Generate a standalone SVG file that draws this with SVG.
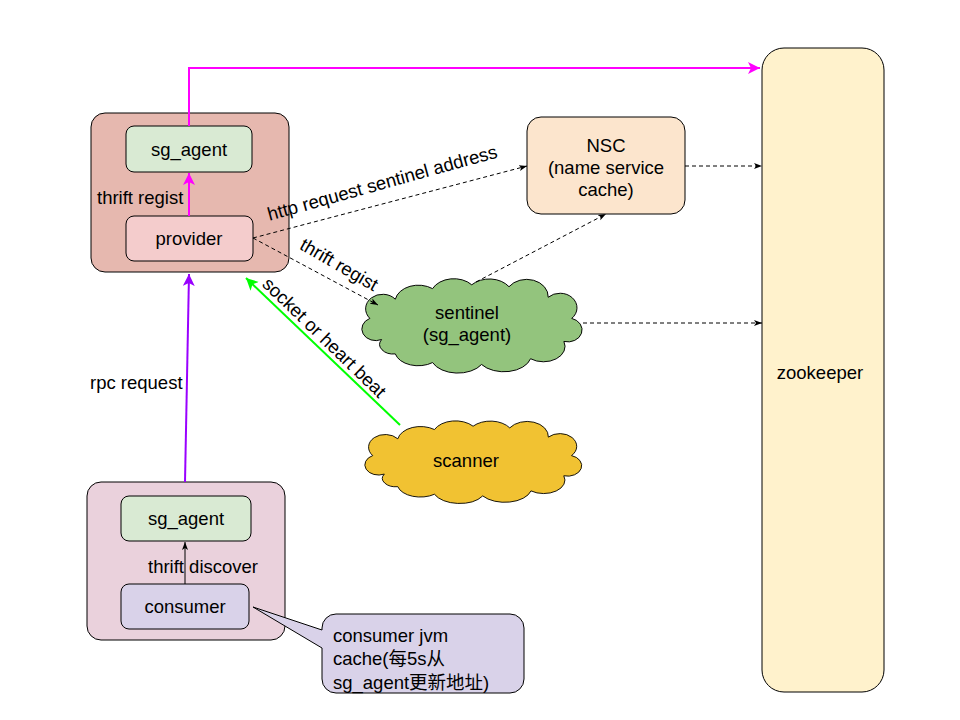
<svg xmlns="http://www.w3.org/2000/svg" width="960" height="720" viewBox="0 0 960 720">
<style>
text{font-family:"Liberation Sans",Arial,sans-serif;font-size:18.5px;fill:#000}
.c{text-anchor:middle}
.box{stroke:#000;stroke-width:1}
.dash{fill:none;stroke:#000;stroke-width:1;stroke-dasharray:4,3}
.cloud{stroke:#000;stroke-width:1;vector-effect:non-scaling-stroke}
</style>
<defs>
<marker id="aBlk" markerUnits="userSpaceOnUse" markerWidth="10" markerHeight="10" refX="8" refY="4" orient="auto"><path d="M0,1 L8,4 L0,7 L2,4 Z" fill="#000"/></marker>
<marker id="aMag" markerUnits="userSpaceOnUse" markerWidth="14" markerHeight="14" refX="12" refY="6" orient="auto"><path d="M0,0 L12,6 L0,12 L3,6 Z" fill="#ff00ff"/></marker>
<marker id="aPur" markerUnits="userSpaceOnUse" markerWidth="14" markerHeight="14" refX="12" refY="6" orient="auto"><path d="M0,0 L12,6 L0,12 L3,6 Z" fill="#9900ff"/></marker>
<marker id="aGrn" markerUnits="userSpaceOnUse" markerWidth="14" markerHeight="14" refX="12" refY="6" orient="auto"><path d="M0,0 L12,6 L0,12 L3,6 Z" fill="#00ff00"/></marker>
<path id="cloudShape" d="M20,62 A14,12 0 0 1 8,40 A16,14 0 0 1 34,20 A24,18 0 0 1 72,9 A24,18 0 0 1 112,5 A24,18 0 0 1 150,7 A22,18 0 0 1 190,18 A16,14 0 0 1 214,40 A14,12 0 0 1 206,64 A22,16 0 0 1 172,82 A28,18 0 0 1 122,88 A28,18 0 0 1 72,86 A24,16 0 0 1 34,77 A14,10 0 0 1 20,62 Z"/>
</defs>

<g id="zookeeper">
<rect class="box" x="762" y="48" width="122" height="644" rx="22" fill="#fff2cc"/>
<text class="c" x="820" y="379">zookeeper</text>
</g>

<g id="provider-group">
<rect class="box" x="91" y="113" width="198" height="159" rx="14" fill="#e6b8af"/>
</g>
<g id="provider-sg_agent">
<rect class="box" x="126" y="126" width="126" height="46" rx="8" fill="#d9ead3"/>
<text class="c" x="189" y="156">sg_agent</text>
</g>
<g id="provider">
<rect class="box" x="126" y="216" width="127" height="45" rx="8" fill="#f4cccc"/>
<text class="c" x="189" y="245">provider</text>
</g>

<g id="consumer-group">
<rect class="box" x="87" y="482" width="198" height="158" rx="14" fill="#ead1dc"/>
</g>
<g id="consumer-sg_agent">
<rect class="box" x="121" y="496" width="130" height="45" rx="8" fill="#d9ead3"/>
<text class="c" x="186" y="525">sg_agent</text>
</g>
<g id="consumer">
<rect class="box" x="121" y="584" width="128" height="45" rx="8" fill="#d9d2e9"/>
<text class="c" x="185" y="613">consumer</text>
</g>

<g id="nsc">
<rect class="box" x="527" y="117" width="158" height="97" rx="14" fill="#fce5cd"/>
<text class="c" x="606" y="152">NSC</text>
<text class="c" x="606" y="174">(name service</text>
<text class="c" x="606" y="196">cache)</text>
</g>

<g id="sentinel">
<use href="#cloudShape" class="cloud" fill="#93c47d" transform="translate(362,280) scale(0.98,0.96)"/>
<text class="c" x="467" y="319">sentinel</text>
<text class="c" x="467" y="341">(sg_agent)</text>
</g>

<g id="scanner">
<use href="#cloudShape" class="cloud" fill="#f1c232" transform="translate(365,422) scale(0.965,0.84)"/>
<text class="c" x="466" y="467">scanner</text>
</g>

<g id="callout">
<path class="box" d="M338,614 H510 A14,14 0 0 1 524,628 V679 A14,14 0 0 1 510,693 H336 A14,14 0 0 1 322,679 V648 L253,607 L322,630 V628 A14,14 0 0 1 336,614 Z" fill="#d9d2e9"/>
<text x="333" y="642">consumer jvm</text>
<text x="333" y="665" style="font-family:'Liberation Sans','Noto Sans CJK SC',sans-serif">cache(每5s从</text>
<text x="333" y="689" style="font-family:'Liberation Sans','Noto Sans CJK SC',sans-serif">sg_agent更新地址)</text>
</g>

<g id="connectors">
<path d="M189,126 V68 H760" fill="none" stroke="#ff00ff" stroke-width="2" marker-end="url(#aMag)"/>
<path d="M189,216 V173" fill="none" stroke="#ff00ff" stroke-width="2" marker-end="url(#aMag)"/>
<path d="M185,482 L189,274" fill="none" stroke="#9900ff" stroke-width="2" marker-end="url(#aPur)"/>
<path d="M185,584 V542" fill="none" stroke="#000" stroke-width="1" marker-end="url(#aBlk)"/>
<path d="M400,425 L246,278" fill="none" stroke="#00ff00" stroke-width="2" marker-end="url(#aGrn)"/>
<path class="dash" d="M253,238 L527,166" marker-end="url(#aBlk)"/>
<path class="dash" d="M253,238 L378,305" marker-end="url(#aBlk)"/>
<path class="dash" d="M476,282 L606,214" marker-end="url(#aBlk)"/>
<path class="dash" d="M685,166 H762" marker-end="url(#aBlk)"/>
<path class="dash" d="M583,323 H762" marker-end="url(#aBlk)"/>
<text x="97" y="204">thrift regist</text>
<text x="148" y="573">thrift discover</text>
<text x="90" y="389">rpc request</text>
<text class="c" x="384" y="189" transform="rotate(-15.5 384 189)">http request sentinel address</text>
<text class="c" x="336" y="270" transform="rotate(30 336 270)">thrift regist</text>
<text class="c" x="320" y="342" transform="rotate(44 320 342)">socket or heart beat</text>
</g>
</svg>
